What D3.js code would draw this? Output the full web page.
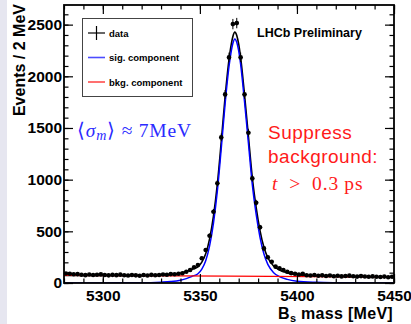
<!DOCTYPE html>
<html>
<head>
<meta charset="utf-8">
<script src="https://cdn.jsdelivr.net/npm/d3@7"></script>
<style>
  body { margin: 0; background: #fff; }
  svg { display: block; }
  .tick text { font-family: "Liberation Sans", Arial, sans-serif; font-weight: bold; font-size: 15.5px; fill: #000; }
</style>
</head>
<body>
<svg width="411" height="324"></svg>
<script>
// Data histogram: bin centres (2 MeV bins) and entries
const binCenters = d3.range(5281, 5450, 2);
const counts = [
  92, 90, 84, 86, 80, 76, 82, 78, 80, 83, 77, 74, 79, 76, 81, 75, 72, 78, 74, 70,
  77, 73, 79, 75, 78, 82, 80, 86, 84, 90,
  94, 109, 126, 152, 174, 239, 319, 457, 690, 964, 1409, 1825, 2183, 2505, 2515, 2183,
  1825, 1454, 1012, 777, 539, 335, 249, 206, 158, 142, 126, 109,
  96, 90, 82, 88, 75, 72, 78, 70, 74, 68, 72, 66, 70, 64, 68, 71, 65, 62, 67, 63,
  60, 64, 61, 58, 62, 56, 60
];

// Fit curves
const fitMass = [5280, 5300, 5320, 5330, 5335, 5340, 5343, 5346, 5349, 5351, 5353, 5355, 5357, 5359,
  5361, 5363, 5365, 5366, 5367, 5368, 5369, 5370, 5371, 5373, 5375, 5377, 5379, 5381, 5383,
  5385, 5388, 5391, 5395, 5400, 5410, 5420, 5435, 5450];
const fitTotal = [74, 73, 72, 77, 83, 95, 110, 133, 157, 202, 282, 427, 647, 957,
  1366, 1801, 2161, 2291, 2386, 2428, 2396, 2311, 2181, 1820, 1420, 1020, 730, 505, 345,
  244, 164, 126, 98, 81, 69, 64, 60, 58];
const fitSignal = [0, 1, 2, 8, 14, 27, 42, 65, 90, 135, 215, 360, 580, 890,
  1300, 1735, 2095, 2225, 2320, 2362, 2330, 2245, 2115, 1755, 1355, 955, 665, 440, 280,
  180, 100, 62, 35, 18, 7, 3, 1, 0];
const bkgMass = [5280, 5365, 5450];
const bkgValues = [74, 66, 58];

const xMajor = [5300, 5350, 5400, 5450];
const yMajor = [0, 500, 1000, 1500, 2000, 2500];

const legendItems = [
  { label: "data", kind: "data" },
  { label: "sig. component", kind: "line", color: "#0000ff" },
  { label: "bkg. component", kind: "line", color: "#ff0000" }
];

const svg = d3.select("svg");
const frame = { left: 64, right: 394, top: 5, bottom: 283 };

// pale strip on the left edge
svg.append("rect")
  .attr("x", 0).attr("y", 0).attr("width", 7).attr("height", 324)
  .attr("fill", "#e6e6f0");

const x = d3.scaleLinear().domain([5280, 5450]).range([frame.left, frame.right]);
const y = d3.scaleLinear().domain([0, 2690]).range([frame.bottom, frame.top]);

const plot = svg.append("g");
plot.append("clipPath").attr("id", "clip")
  .append("rect")
  .attr("x", frame.left).attr("y", frame.top)
  .attr("width", frame.right - frame.left).attr("height", frame.bottom - frame.top);

const curves = plot.append("g").attr("clip-path", "url(#clip)");

const curveLine = (xs, ys) => d3.line()
  .x((d, i) => x(xs[i]))
  .y(d => y(d))
  .curve(d3.curveMonotoneX)(ys);

curves.append("path")
  .attr("d", curveLine(fitMass, fitTotal))
  .attr("fill", "none").attr("stroke", "#000").attr("stroke-width", 1.6);

curves.append("path")
  .attr("d", curveLine(fitMass, fitSignal))
  .attr("fill", "none").attr("stroke", "#0000ff").attr("stroke-width", 1.5);

curves.append("path")
  .attr("d", curveLine(bkgMass, bkgValues))
  .attr("fill", "none").attr("stroke", "#ff0000").attr("stroke-width", 1.3);

// data points with error bars
const pts = plot.append("g");
binCenters.forEach((m, i) => {
  const n = counts[i];
  const err = Math.sqrt(n);
  pts.append("line")
    .attr("x1", x(m)).attr("x2", x(m))
    .attr("y1", y(n - err)).attr("y2", y(n + err))
    .attr("stroke", "#000").attr("stroke-width", 1);
  pts.append("line")
    .attr("x1", x(m - 1)).attr("x2", x(m + 1))
    .attr("y1", y(n)).attr("y2", y(n))
    .attr("stroke", "#000").attr("stroke-width", 1);
  pts.append("circle")
    .attr("cx", x(m)).attr("cy", y(n)).attr("r", 2.3)
    .attr("fill", "#000");
});

// axes, ticks pointing inward on all four sides
const xMinor = d3.range(5280, 5451, 10);
const yMinor = d3.range(0, 2690, 100);

svg.append("g").attr("transform", `translate(0,${frame.bottom})`)
  .call(d3.axisBottom(x).tickValues(xMinor).tickSize(-4.5).tickFormat(""));
svg.append("g").attr("transform", `translate(0,${frame.bottom})`)
  .call(d3.axisBottom(x).tickValues(xMajor).tickSize(-9).tickPadding(7).tickFormat(d3.format("d")));
svg.append("g").attr("transform", `translate(0,${frame.top})`)
  .call(d3.axisTop(x).tickValues(xMinor).tickSize(-4.5).tickFormat(""));
svg.append("g").attr("transform", `translate(0,${frame.top})`)
  .call(d3.axisTop(x).tickValues(xMajor).tickSize(-9).tickFormat(""));

svg.append("g").attr("transform", `translate(${frame.left},0)`)
  .call(d3.axisLeft(y).tickValues(yMinor).tickSize(-4.5).tickFormat(""));
svg.append("g").attr("transform", `translate(${frame.left},0)`)
  .call(d3.axisLeft(y).tickValues(yMajor).tickSize(-9).tickPadding(2).tickFormat(d3.format("d")));
svg.append("g").attr("transform", `translate(${frame.right},0)`)
  .call(d3.axisRight(y).tickValues(yMinor).tickSize(-4.5).tickFormat(""));
svg.append("g").attr("transform", `translate(${frame.right},0)`)
  .call(d3.axisRight(y).tickValues(yMajor).tickSize(-9).tickFormat(""));

svg.selectAll(".domain").remove();
svg.selectAll(".tick line").attr("stroke", "#000").attr("stroke-width", 1.2);

svg.append("rect")
  .attr("x", frame.left).attr("y", frame.top)
  .attr("width", frame.right - frame.left).attr("height", frame.bottom - frame.top)
  .attr("fill", "none").attr("stroke", "#000").attr("stroke-width", 1.8);

// axis titles
svg.append("text")
  .attr("transform", "translate(25,4) rotate(-90)")
  .attr("text-anchor", "end")
  .style("font-family", "Liberation Sans, Arial, sans-serif")
  .style("font-weight", "bold").style("font-size", "16px")
  .text("Events / 2 MeV");

const xTitle = svg.append("text")
  .attr("x", 393).attr("y", 319)
  .attr("text-anchor", "end")
  .style("font-family", "Liberation Sans, Arial, sans-serif")
  .style("font-weight", "bold").style("font-size", "16px")
  .style("letter-spacing", "0.3px");
xTitle.append("tspan").text("B");
xTitle.append("tspan").attr("dy", 3).style("font-size", "11px").text("s");
xTitle.append("tspan").attr("dy", -3).text(" mass [MeV]");

// legend
const legend = svg.append("g");
legend.append("rect")
  .attr("x", 82.5).attr("y", 18.5).attr("width", 110).attr("height", 78)
  .attr("fill", "#fff").attr("stroke", "#444").attr("stroke-width", 1);
legendItems.forEach((d, i) => {
  const cy = 33 + i * 24.5;
  if (d.kind === "data") {
    legend.append("line").attr("x1", 88).attr("x2", 105).attr("y1", cy).attr("y2", cy)
      .attr("stroke", "#000").attr("stroke-width", 1.2);
    legend.append("line").attr("x1", 96.5).attr("x2", 96.5).attr("y1", cy - 7).attr("y2", cy + 7)
      .attr("stroke", "#000").attr("stroke-width", 1.2);
  } else {
    legend.append("line").attr("x1", 88).attr("x2", 105).attr("y1", cy).attr("y2", cy)
      .attr("stroke", d.color).attr("stroke-opacity", 0.7).attr("stroke-width", 1.6);
  }
  legend.append("text")
    .attr("x", 109).attr("y", cy + 3.5)
    .style("font-family", "Liberation Sans, Arial, sans-serif")
    .style("font-weight", "bold").style("font-size", "9.5px")
    .text(d.label);
});

svg.append("text")
  .attr("x", 257).attr("y", 37)
  .style("font-family", "Liberation Sans, Arial, sans-serif")
  .style("font-weight", "bold").style("font-size", "12.5px")
  .text("LHCb Preliminary");

// annotations
const sig = svg.append("text")
  .attr("x", 77).attr("y", 137)
  .attr("fill", "#2b2bff")
  .style("font-family", "Liberation Serif, serif")
  .style("font-size", "19.5px")
  .style("letter-spacing", "0.8px");
sig.append("tspan").text("\u27E8");
sig.append("tspan").style("font-style", "italic").text("\u03C3");
sig.append("tspan").attr("dy", 3).style("font-style", "italic").style("font-size", "14px").text("m");
sig.append("tspan").attr("dy", -3).text("\u27E9 \u2248 7MeV");

const supp = svg.append("g")
  .attr("fill", "#ff1a1a")
  .style("font-family", "Liberation Sans, Arial, sans-serif")
  .style("font-size", "19px")
  .style("letter-spacing", "0.5px");
supp.append("text").attr("x", 268).attr("y", 139).text("Suppress");
supp.append("text").attr("x", 268).attr("y", 162.5).text("background:");
const tcut = supp.append("text").attr("x", 272).attr("y", 190)
  .style("font-family", "Liberation Serif, serif").style("font-size", "19.5px")
  .style("letter-spacing", "1px");
tcut.append("tspan").style("font-style", "italic").text("t");
tcut.append("tspan").text("\u2002>\u20020.3\u2009ps");
</script>
</body>
</html>
